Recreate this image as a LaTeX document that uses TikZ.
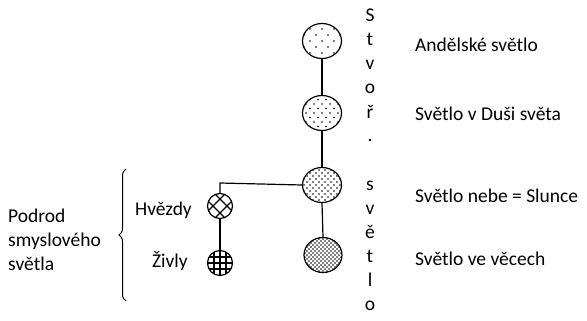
\documentclass[tikz,border=0pt]{standalone}
\usepackage{fontspec}
\setmainfont{Carlito}
\usetikzlibrary{decorations.pathreplacing,calc,shapes.geometric}
\begin{document}
\begin{tikzpicture}[x=1pt,y=-1pt,
  lbl/.style={anchor=base west,inner sep=0pt,font=\fontsize{19.5}{23}\selectfont},
  lblr/.style={anchor=base east,inner sep=0pt,font=\fontsize{19.5}{23}\selectfont},
  vlet/.style={anchor=base,inner sep=0pt,font=\fontsize{19.5}{23}\selectfont},
  big/.style={draw,line width=1.2pt,ellipse,minimum width=39pt,minimum height=35pt,inner sep=0pt},
  small/.style={draw,line width=1.2pt,circle,minimum size=25pt,inner sep=0pt},
  conn/.style={line width=1.2pt}]
\useasboundingbox (0,0) rectangle (587,321);
% big circles
\coordinate (p1) at (322,41);
\coordinate (p2) at (322,113);
\coordinate (p3) at (322,185);
\coordinate (p4) at (323,255);
% dot fills
\begin{scope}
\clip (p1) ellipse [x radius=19.5, y radius=17.5];
\foreach \i in {-3,...,3}{\foreach \j in {-3,...,3}{
  \pgfmathtruncatemacro\s{mod(abs(\i+\j),2)}
  \ifnum\s=0 \fill ($(p1)+(\i*6,\j*6)$) circle (0.9pt);\fi}}
\end{scope}
\begin{scope}
\clip (p2) ellipse [x radius=19.5, y radius=17.5];
\foreach \i in {-5,...,5}{\foreach \j in {-5,...,5}{
  \pgfmathtruncatemacro\s{mod(abs(\i+\j),2)}
  \ifnum\s=0 \fill ($(p2)+(\i*4,\j*4.5)$) circle (0.85pt);\fi}}
\end{scope}
\begin{scope}
\clip (p3) ellipse [x radius=19.5, y radius=17.5];
\foreach \i in {-7,...,7}{\foreach \j in {-7,...,7}{
  \pgfmathtruncatemacro\s{mod(abs(\i+\j),2)}
  \ifnum\s=0 \fill ($(p3)+(\i*3,\j*3)$) circle (0.85pt);\fi}}
\end{scope}
\begin{scope}
\clip (p4) ellipse [x radius=19, y radius=17.5];
\foreach \i in {-10,...,10}{\foreach \j in {-10,...,10}{
  \pgfmathtruncatemacro\s{mod(abs(\i+\j),2)}
  \ifnum\s=0 \fill ($(p4)+(\i*2,\j*2)$) circle (0.8pt);\fi}}
\end{scope}
\node[big] (c1) at (p1) {};
\node[big] (c2) at (p2) {};
\node[big] (c3) at (p3) {};
\node[big,minimum width=38pt] (c4) at (p4) {};
% small circles
\coordinate (q1) at (220,206);
\coordinate (q2) at (220,263);
\begin{scope}
\clip (q1) circle (12.5);
\foreach \d in {-7,7}{
  \draw[line width=1.2pt] ($(q1)+(\d-15,-15)$) -- ($(q1)+(\d+15,15)$);
  \draw[line width=1.2pt] ($(q1)+(\d-15,15)$) -- ($(q1)+(\d+15,-15)$);}
\end{scope}
\begin{scope}
\clip (q2) circle (12.5);
\foreach \d in {-6,0,6}{
  \draw[line width=1.2pt] ($(q2)+(\d,-15)$) -- ($(q2)+(\d,15)$);
  \draw[line width=1.2pt] ($(q2)+(-15,\d)$) -- ($(q2)+(15,\d)$);}
\end{scope}
\node[small] (h) at (q1) {};
\node[small] (z) at (q2) {};
% connectors
\draw[conn] (c1.south) -- (c2.north);
\draw[conn] (c2.south) -- (c3.north);
\draw[conn] (c3.south) -- (c4.north);
\draw[conn] (h.south) -- (z.north);
\coordinate (k) at (220,183);
\draw[conn] (h.north) -- (k) -- (c3.west);
% right labels
\node[lbl] (l1) at (415,52) {Andělské světlo};
\node[lbl] (l2) at (415,121) {Světlo v Duši světa};
\node[lbl] (l3) at (415,202) {Světlo nebe = Slunce};
\node[lbl] (l4) at (415,265) {Světlo ve věcech};
% vertical word
\foreach \t [count=\i from 0] in {S,t,v,o,ř,.,{},s,v,ě,t,l,o}{
  \node[vlet] (v\i) at (370,22+\i*24) {\t};}
% left side
\node[lblr] (hv) at (192,215) {Hvězdy};
\node[lblr] (zi) at (188,267) {Živly};
\node[lbl] (t1) at (8,222) {Podrod};
\node[lbl] (t2) at (8,246) {smyslového};
\node[lbl] (t3) at (8,270) {světla};
\coordinate (b1) at (126,301);
\coordinate (b2) at (126,169);
\draw[line width=1pt,decorate,decoration={brace,amplitude=7pt}] (b1) -- (b2);
\end{tikzpicture}
\end{document}
